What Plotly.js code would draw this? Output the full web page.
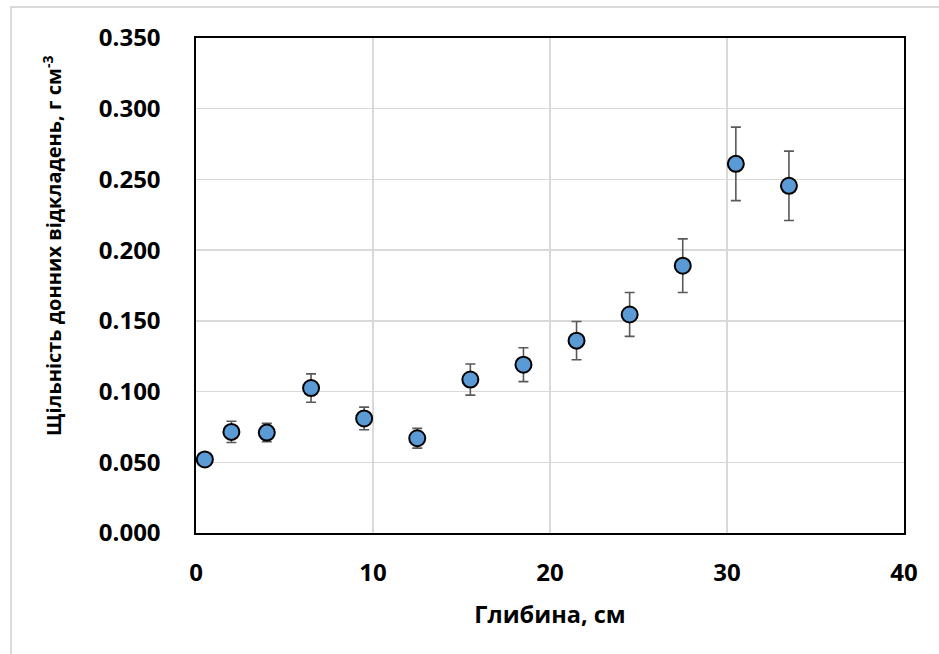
<!DOCTYPE html>
<html>
<head>
<meta charset="utf-8">
<script src="https://cdn.plot.ly/plotly-3.0.1.min.js"></script>
<style>
  html, body { margin: 0; padding: 0; background: #fff; }
  #chart { width: 939px; height: 654px; }
</style>
</head>
<body>
<div id="chart"></div>
<script>
// Sediment bulk density by depth, with measurement error
const depth = [0.5, 2, 4, 6.5, 9.5, 12.5, 15.5, 18.5, 21.5, 24.5, 27.5, 30.5, 33.5];
const density = [0.052, 0.0715, 0.071, 0.1025, 0.081, 0.067, 0.1085, 0.119, 0.136, 0.1545, 0.189, 0.261, 0.2455];
const densityErr = [0.002, 0.0075, 0.0065, 0.0100, 0.008, 0.007, 0.011, 0.012, 0.0135, 0.0155, 0.019, 0.026, 0.0245];

const xTitle = 'Глибина, см';
const yTitle = 'Щільність донних відкладень, г см<sup>-3</sup>';

const FONT = '"Open Sans", "DejaVu Sans", sans-serif';

const trace = {
  type: 'scatter',
  mode: 'markers',
  x: depth,
  y: density,
  error_y: {
    type: 'data',
    array: densityErr,
    visible: true,
    color: '#595959',
    thickness: 1.6,
    width: 5
  },
  marker: {
    size: 16,
    color: '#5B9BD5',
    line: { color: '#000000', width: 2 }
  },
  hoverinfo: 'x+y'
};

const layout = {
  width: 939,
  height: 654,
  margin: { l: 196, r: 35, t: 38, b: 121 },
  paper_bgcolor: '#ffffff',
  plot_bgcolor: '#ffffff',
  showlegend: false,
  font: { family: FONT, color: '#000000' },
  xaxis: {
    range: [0, 40],
    dtick: 10,
    tick0: 0,
    showgrid: true,
    gridcolor: '#d9d9d9',
    gridwidth: 1.5,
    zeroline: false,
    showline: true,
    linecolor: '#000000',
    linewidth: 1.6,
    mirror: true,
    ticks: '',
    ticklabelstandoff: 18,
    tickfont: { family: FONT, size: 24, color: '#000000', weight: 'bold' },
    title: {
      text: xTitle,
      font: { family: FONT, size: 23.5, color: '#000000', weight: 'bold' },
      standoff: 19
    }
  },
  yaxis: {
    range: [0, 0.35],
    dtick: 0.05,
    tick0: 0,
    tickformat: '.3f',
    showgrid: true,
    gridcolor: '#d9d9d9',
    gridwidth: 1.5,
    zeroline: false,
    showline: true,
    linecolor: '#000000',
    linewidth: 1.6,
    mirror: true,
    ticks: '',
    ticklabelstandoff: 29,
    tickfont: { family: FONT, size: 24, color: '#000000', weight: 'bold' }
  },
  annotations: [{
    xref: 'paper', yref: 'paper',
    x: -0.202, y: 0.58,
    xanchor: 'center', yanchor: 'middle',
    textangle: -90,
    showarrow: false,
    text: yTitle,
    font: { family: FONT, size: 20, color: '#000000', weight: 'bold' }
  }],
  shapes: [{
    // light frame around the chart area (left and top edges)
    type: 'path',
    xref: 'paper', yref: 'paper',
    path: 'M -0.2613 -0.26 L -0.2613 1.0626 L 1.06 1.0626',
    line: { color: '#d9d9d9', width: 2 },
    layer: 'below'
  }]
};

Plotly.newPlot('chart', [trace], layout, { displayModeBar: false, staticPlot: true });
</script>
</body>
</html>
